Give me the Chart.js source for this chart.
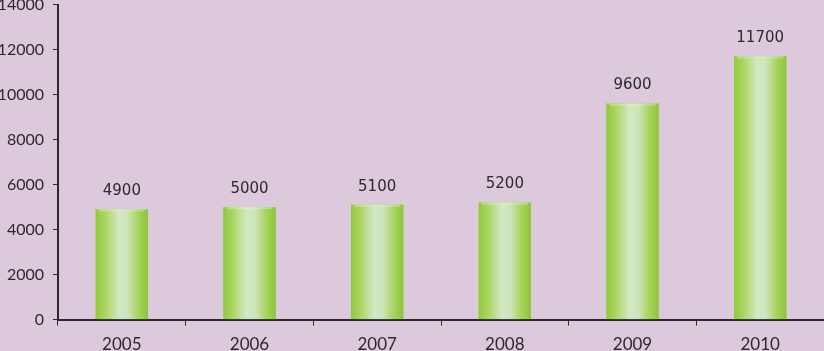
<!DOCTYPE html>
<html>
<head>
<meta charset="utf-8">
<script src="https://cdn.jsdelivr.net/npm/chart.js@4.4.0/dist/chart.umd.min.js"></script>
<style>
  html, body { margin: 0; padding: 0; background: #dccadc; }
  #wrap { position: relative; width: 824px; height: 351px; overflow: hidden; }
  #box { position: absolute; left: 0; top: -14px; width: 824px; height: 378px; }
</style>
</head>
<body>
<div id="wrap"><div id="box"><canvas id="myChart"></canvas></div></div>
<script>
// valores
var anos = ['2005', '2006', '2007', '2008', '2009', '2010']
var valores = [4900, 5000, 5100, 5200, 9600, 11700]
var eixoY = [0, 2000, 4000, 6000, 8000, 10000, 12000, 14000]

const ctx = document.getElementById('myChart')

// gradiente horizontal tipo cilindro, pintado por cima de cada barra
const gradiente = {
  id: 'gradiente',
  afterDatasetsDraw(chart) {
    var c = chart.ctx
    chart.getDatasetMeta(0).data.forEach(function (bar) {
      var x0 = bar.x - bar.width / 2
      var g = c.createLinearGradient(x0, 0, x0 + bar.width, 0)
      g.addColorStop(0, '#93c83e')
      g.addColorStop(0.15, '#a6d35a')
      g.addColorStop(0.45, '#d3e8c3')
      g.addColorStop(0.6, '#cde5bb')
      g.addColorStop(0.85, '#a2d153')
      g.addColorStop(1, '#8ec43a')
      c.save()
      c.fillStyle = g
      c.fillRect(x0, bar.y, bar.width, bar.base - bar.y)
      // topo um pouco mais claro
      c.fillStyle = 'rgba(225,242,205,0.4)'
      c.fillRect(x0 + 3, bar.y, bar.width - 6, 2)
      c.restore()
    })
  }
}

// valores em cima das barras
const rotulos = {
  id: 'rotulos',
  afterDatasetsDraw(chart) {
    var c = chart.ctx
    c.save()
    c.font = '15px "DejaVu Sans"'
    c.fillStyle = '#2a2a2a'
    c.textAlign = 'center'
    c.textBaseline = 'middle'
    chart.getDatasetMeta(0).data.forEach(function (bar, i) {
      c.fillText(valores[i], bar.x, bar.y - 18)
    })
    c.restore()
  }
}

new Chart(ctx, {
  type: 'bar',
  data: {
    labels: anos,
    datasets: [{
      data: valores,
      backgroundColor: '#a6d35a',
      borderWidth: 0,
      categoryPercentage: 1,
      barPercentage: 0.41
    }]
  },
  options: {
    responsive: true,
    maintainAspectRatio: false,
    animation: false,
    events: [],
    layout: { padding: { left: 0, right: 0, top: 0, bottom: 0 } },
    plugins: {
      legend: { display: false },
      tooltip: { enabled: false }
    },
    scales: {
      x: {
        offset: true,
        grid: {
          offset: true,
          drawOnChartArea: false,
          color: '#2a2a2a',
          tickLength: 6,
          lineWidth: 1
        },
        border: { color: '#2a2a2a', width: 2 },
        ticks: {
          color: '#2a2a2a',
          font: { family: 'Lato', size: 17 },
          padding: 9,
          maxRotation: 0
        }
      },
      y: {
        min: 0,
        max: 14000,
        afterBuildTicks: function (scale) {
          scale.ticks = eixoY.map(function (v) { return { value: v } })
        },
        afterFit: function (scale) { scale.width = 58 },
        grid: {
          drawOnChartArea: false,
          color: '#2a2a2a',
          tickLength: 5
        },
        border: { color: '#2a2a2a', width: 2 },
        ticks: {
          color: '#2a2a2a',
          font: { family: 'Lato', size: 16 },
          padding: 9,
          callback: function (v) { return String(v) }
        }
      }
    }
  },
  plugins: [gradiente, rotulos]
})
</script>
</body>
</html>
